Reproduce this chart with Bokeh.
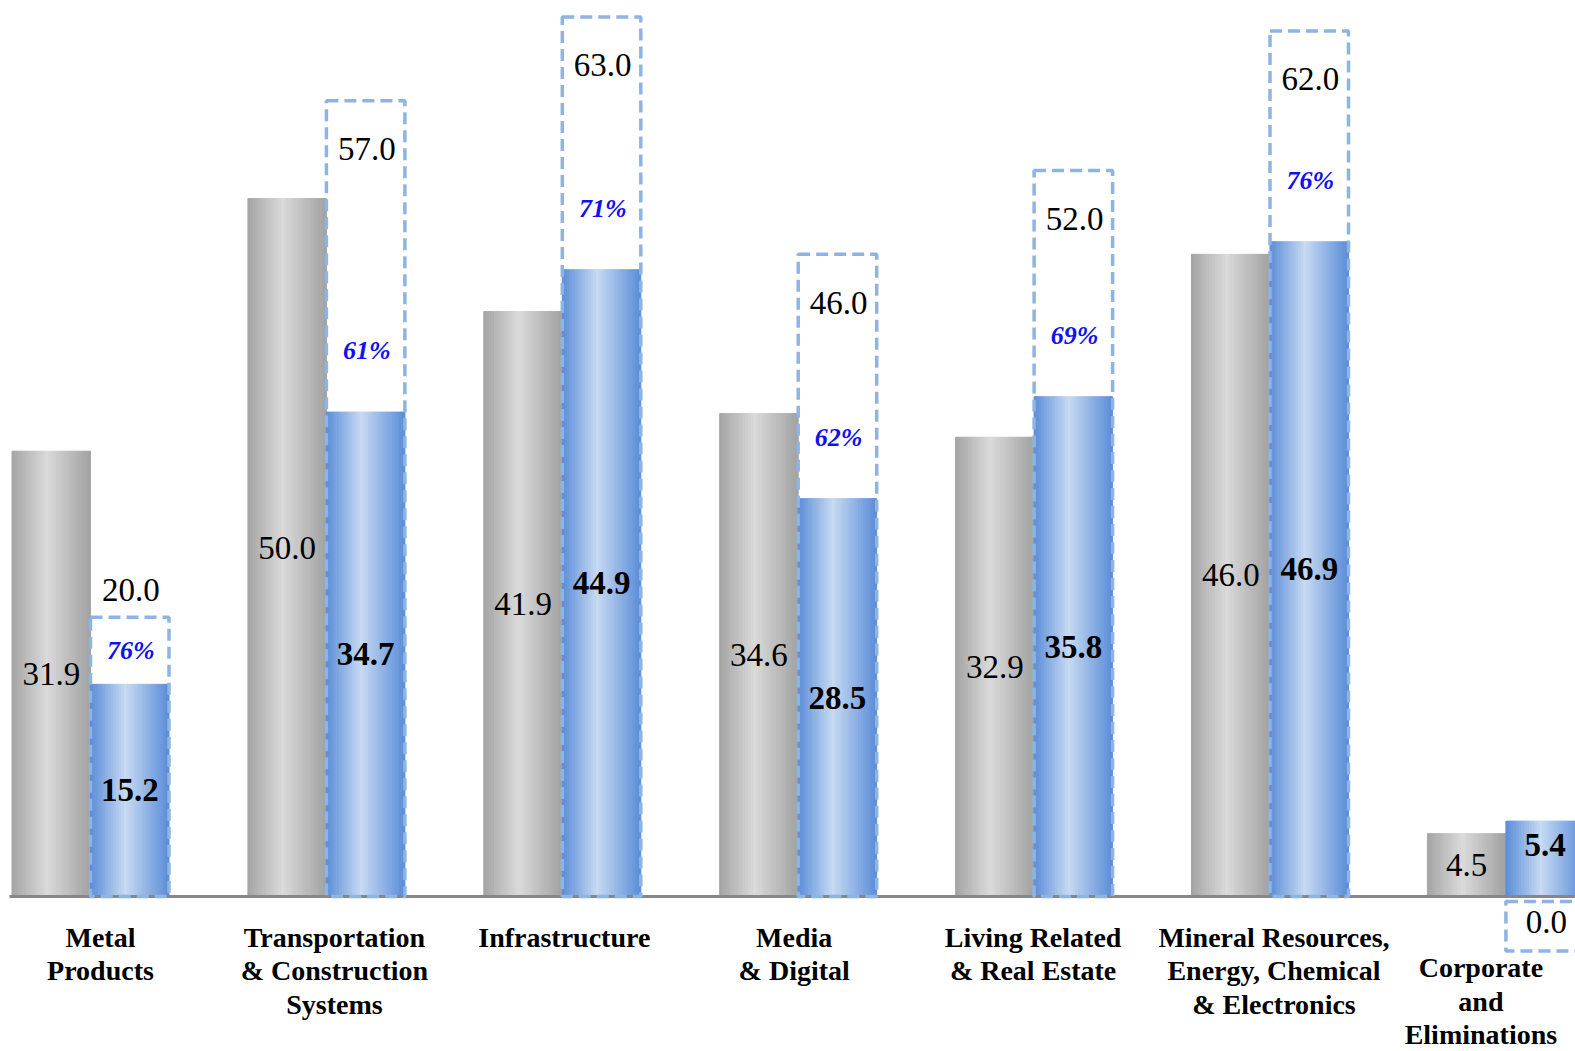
import numpy as np
from bokeh.plotting import figure
from bokeh.models import Range1d, ColumnDataSource
from bokeh.core.properties import value
from bokeh.embed import file_html
from bokeh.resources import INLINE

# Segment profit figures (billion yen)
segments = [
    "Metal\nProducts",
    "Transportation\n& Construction\nSystems",
    "Infrastructure",
    "Media\n& Digital",
    "Living Related\n& Real Estate",
    "Mineral Resources,\nEnergy, Chemical\n& Electronics",
    "Corporate\nand\nEliminations",
]
prior_year = [31.9, 50.0, 41.9, 34.6, 32.9, 46.0, 4.5]
current_year = [15.2, 34.7, 44.9, 28.5, 35.8, 46.9, 5.4]
annual_plan = [20.0, 57.0, 63.0, 46.0, 52.0, 62.0, 0.0]

# ---- geometry / styling ----
W, H = 1575, 1051
PX_GROUP = 235.9          # pixels between neighbouring segments
PX_UNIT = 13.96           # pixels per billion yen
ORIGIN_X, ORIGIN_Y = 90, 896
BAR_W = 78.5 / PX_GROUP

FONT = value("Liberation Serif")

p = figure(width=W, height=H, output_backend="svg", toolbar_location=None,
           min_border=0, outline_line_color=None, background_fill_color="white",
           x_range=Range1d(-ORIGIN_X / PX_GROUP, (W - ORIGIN_X) / PX_GROUP),
           y_range=Range1d(-(H - ORIGIN_Y) / PX_UNIT, ORIGIN_Y / PX_UNIT))
p.xaxis.visible = False
p.yaxis.visible = False
p.grid.visible = False

def hex2rgb(h):
    h = h.lstrip("#")
    return np.array([int(h[i:i + 2], 16) for i in (0, 2, 4)], dtype=float)

def shade(stops, t):
    ts = [s[0] for s in stops]
    cols = [hex2rgb(s[1]) for s in stops]
    for k in range(len(ts) - 1):
        if ts[k] <= t <= ts[k + 1]:
            f = (t - ts[k]) / (ts[k + 1] - ts[k])
            c = cols[k] * (1 - f) + cols[k + 1] * f
            return "#%02x%02x%02x" % tuple(int(round(v)) for v in c)
    return stops[-1][1]

GRAY_STOPS = [(0.0, "#a4a4a4"), (0.45, "#dadada"), (1.0, "#a2a2a2")]
BLUE_STOPS = [(0.0, "#5a8cd7"), (0.45, "#c7daf2"), (1.0, "#5b8dd8")]
N_STRIPS = 30

def gradient_bars(lefts, tops, stops):
    L, R, T, B, C = [], [], [], [], []
    for x0, top in zip(lefts, tops):
        step = BAR_W / N_STRIPS
        for k in range(N_STRIPS):
            L.append(x0 + k * step)
            R.append(x0 + (k + 1) * step)
            T.append(top)
            B.append(0)
            C.append(shade(stops, (k + 0.5) / N_STRIPS))
    src = ColumnDataSource(dict(left=L, right=R, top=T, bottom=B, color=C))
    p.quad(left="left", right="right", top="top", bottom="bottom", source=src,
           fill_color="color", line_color="color", line_width=1)

idx = np.arange(len(segments), dtype=float)
gradient_bars(idx - BAR_W, prior_year, GRAY_STOPS)
gradient_bars(idx, current_year, BLUE_STOPS)

# axis baseline
p.segment(x0=[(9 - ORIGIN_X) / PX_GROUP], y0=[0], x1=[(W - ORIGIN_X) / PX_GROUP], y1=[0],
          line_color="#878787", line_width=3)

# dashed plan outlines (zero plan drawn as a small box under the axis)
box_top, box_bottom = [], []
for v in annual_plan:
    if v > 0:
        box_top.append(v); box_bottom.append(0)
    else:
        box_top.append(-0.35); box_bottom.append(-3.9)
p.quad(left=idx, right=idx + BAR_W, top=box_top, bottom=box_bottom,
       fill_color=None, line_color="#8db4e2", line_width=3.5,
       line_dash="12 6")

# value labels
gray_src = ColumnDataSource(dict(x=idx - BAR_W / 2, y=[v / 2 for v in prior_year],
                                 t=[f"{v:.1f}" for v in prior_year]))
p.text(x="x", y="y", text="t", source=gray_src, text_font=FONT, text_font_size="33px",
       text_color="black", text_align="center", text_baseline="middle")

blue_y = [v / 2 if v >= 10 else v - 1.72 for v in current_year]
blue_src = ColumnDataSource(dict(x=idx + BAR_W / 2, y=blue_y,
                                 t=[f"{v:.1f}" for v in current_year]))
p.text(x="x", y="y", text="t", source=blue_src, text_font=FONT, text_font_size="33px",
       text_font_style="bold", text_color="black", text_align="center",
       text_baseline="middle")

plan_y = []
for a, v in zip(current_year, annual_plan):
    if v == 0:
        plan_y.append(-1.8)
    elif v - a >= 10:
        plan_y.append(v - 3.45)
    else:
        plan_y.append(v + 1.95)
plan_src = ColumnDataSource(dict(x=idx + BAR_W / 2 + 0.005, y=plan_y,
                                 t=[f"{v:.1f}" for v in annual_plan]))
p.text(x="x", y="y", text="t", source=plan_src, text_font=FONT, text_font_size="33px",
       text_color="black", text_align="center", text_baseline="middle")

# achievement ratio against plan
px, py, pt = [], [], []
for i, (a, v) in enumerate(zip(current_year, annual_plan)):
    if v > 0:
        px.append(i + BAR_W / 2 + 0.005)
        py.append(min(a + 4.4, (a + v) / 2))
        pt.append(f"{round(100 * a / v):d}%")
pct_src = ColumnDataSource(dict(x=px, y=py, t=pt))
p.text(x="x", y="y", text="t", source=pct_src, text_font=FONT, text_font_size="26px",
       text_font_style="bold italic", text_color="#1010f0", text_align="center",
       text_baseline="middle")

# segment names
label_nudge_px = [10, 8, 2, -4, -1, 4, -25]
label_top = [-1.8 if i < len(segments) - 1 else -4.0 for i in range(len(segments))]
cat_src = ColumnDataSource(dict(x=[i + n / PX_GROUP for i, n in enumerate(label_nudge_px)],
                                y=label_top, t=segments))
p.text(x="x", y="y", text="t", source=cat_src, text_font=FONT, text_font_size="28px",
       text_font_style="bold", text_color="black", text_align="center",
       text_baseline="top", text_line_height=1.08)

open("out.html", "w").write(file_html(p, INLINE))
